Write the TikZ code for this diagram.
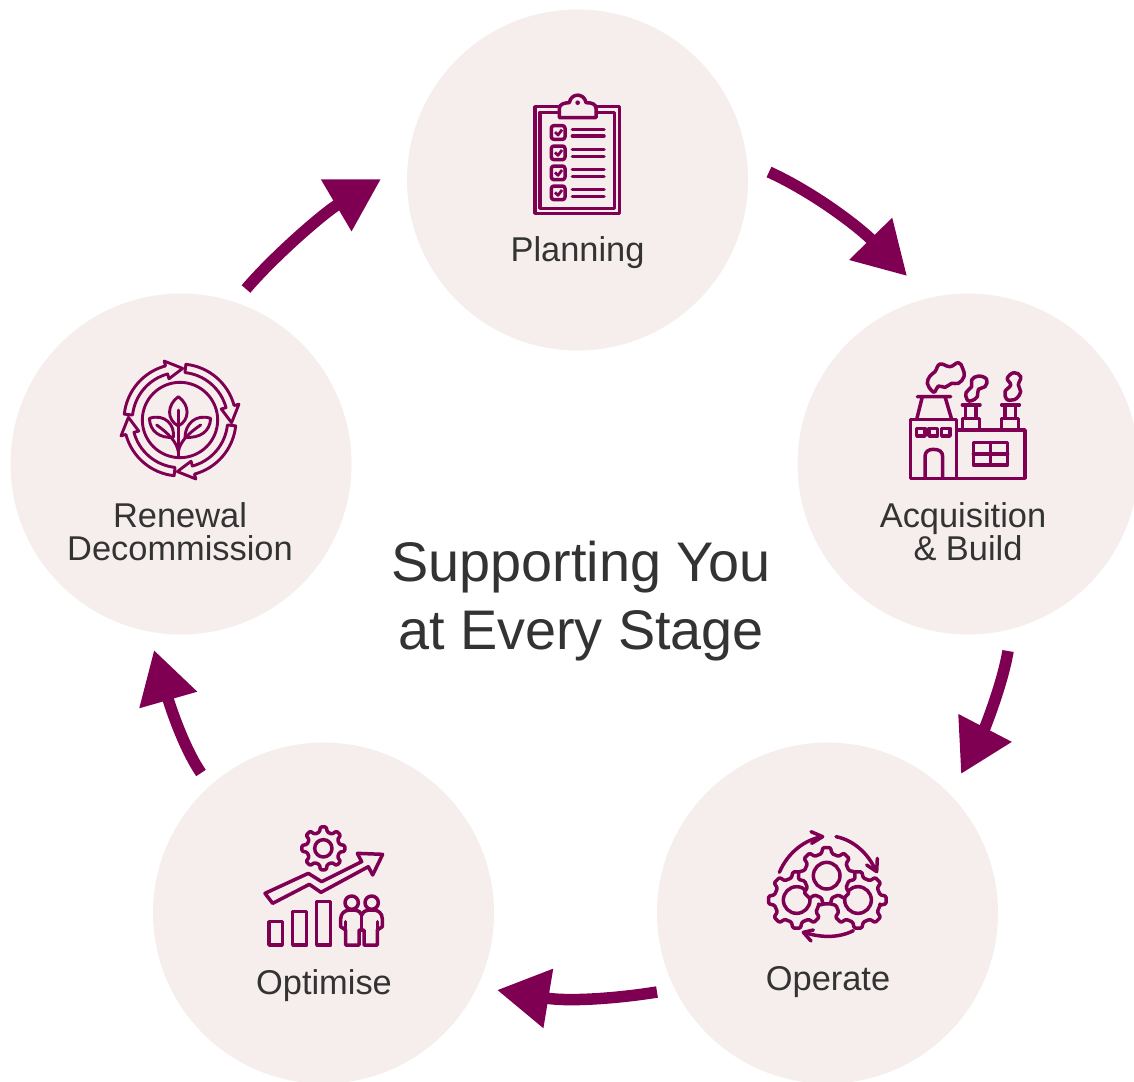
\documentclass[tikz,border=0pt]{standalone}
\usepackage{fontspec}
\setmainfont{Liberation Sans}
\usetikzlibrary{arrows.meta}
\definecolor{plum}{HTML}{7F0053}
\definecolor{disc}{HTML}{F5EEEC}
\definecolor{ink}{HTML}{333333}
\tikzset{
  x=1pt,y=-1pt,
  stagedisc/.style={circle,fill=disc,draw=none,minimum size=341pt,inner sep=0pt,outer sep=0pt},
  stagelabel/.style={text=ink,font=\fontsize{34.4}{33}\selectfont,align=center,inner sep=0pt},
  titlelabel/.style={text=ink,font=\fontsize{55.8}{68}\selectfont,align=center,inner sep=0pt},
  cyclearrow/.style={draw=plum,line width=11.5pt,-{Triangle[length=52pt,width=57pt]}},
  icon/.style={draw=plum,line width=3.5pt,line join=round,line cap=round},
  thinicon/.style={icon,line width=2.9pt},
  zoomdown/.style={x=0.33333pt,y=-0.33333pt},
  zoomup/.style={x=0.33333pt,y=0.33333pt},
}
\newcommand{\gearshape}[5][]{%
  % teeth, root radius, tip radius, phase
  \path[icon,rounded corners=1.2pt,#1] ({#5-0.3*360/#2}:#3)
    \foreach \k [evaluate=\k as \a using #5+\k*360/#2] in {0,...,\numexpr#2-1\relax} {
      -- ({\a-0.3*360/#2}:#3) -- ({\a-0.17*360/#2}:#4)
      -- ({\a+0.17*360/#2}:#4) -- ({\a+0.3*360/#2}:#3)
    } -- cycle;}
\begin{document}
\begin{tikzpicture}
\clip (0,0) rectangle (1134,1081);
\useasboundingbox (0,0) rectangle (1134,1081);
\node[stagedisc] (plan) at (577.5,180) {};
\node[stagedisc] (acq) at (968,464) {};
\node[stagedisc] (oper) at (827.5,913) {};
\node[stagedisc] (opt) at (323.5,913) {};
\node[stagedisc] (ren) at (181,464) {};
% labels
\node[stagelabel] (lplan) at (577.5,253) {Planning};
\node[stagelabel] (lacq) at (963,532) {Acquisition\\\hspace*{10pt}\& Build};
\node[stagelabel] (loper) at (828,982) {Operate};
\node[stagelabel] (lopt) at (324,986) {Optimise};
\node[stagelabel] (lren) at (180,532) {Renewal\\Decommission};
\node[titlelabel] (title) at (581,601) {Supporting You\\at Every Stage};
% connectors
\coordinate (a1s) at (769,172); \coordinate (a1t) at (907,276);
\coordinate (a2s) at (1008,651); \coordinate (a2t) at (961,774);
\coordinate (a3s) at (657,992); \coordinate (a3t) at (497,990);
\coordinate (a4s) at (201,773); \coordinate (a4t) at (154,650);
\coordinate (a5s) at (246,289); \coordinate (a5t) at (381,179);
\draw[cyclearrow] (a1s) .. controls (815,193) and (860,228) .. (a1t);
\draw[cyclearrow] (a2s) .. controls (1003,682) and (985,728) .. (a2t);
\draw[cyclearrow] (a3s) .. controls (620,998) and (570,1002) .. (a3t);
\draw[cyclearrow] (a4s) .. controls (182,745) and (168,699) .. (a4t);
\draw[cyclearrow] (a5s) .. controls (275,255) and (325,212) .. (a5t);
% clipboard
\begin{scope}[shift={(510,80)},zoomdown]
  \draw[icon] (75,80) rectangle (328,400);
  \draw[icon] (90,97) rectangle (313,385);
  \draw[icon,fill=disc] (148,113) -- (148,85) .. controls (148,72) and (165,68) .. (178,68)
     .. controls (183,38) and (223,38) .. (228,68) .. controls (245,68) and (258,72) .. (258,85) -- (258,113) -- cycle;
  \fill[plum] (203,68) circle[radius=7];
  \foreach \yy in {137,198,258,318} {
    \draw[icon,rounded corners=2.5pt] (124,\yy) rectangle (165,\yy+41);
    \draw[plum,line width=2.8pt,line join=round] (135,\yy+19) -- (144,\yy+28) -- (156,\yy+12);
    \draw[icon] (187,\yy+11) -- (282,\yy+11);
    \draw[icon] (187,\yy+31) -- (282,\yy+31);
  }
\end{scope}
% factory
\begin{scope}[shift={(890,350)},zoomdown]
  \draw[icon] (62,208) rectangle (200,385);
  \draw[icon] (200,240) -- (405,240) -- (405,385) -- (200,385);
  \foreach \xx in {80,117,155} \draw[icon] (\xx,235) rectangle (\xx+25,258);
  \draw[icon] (105,385) -- (105,320) .. controls (105,305) and (115,298) .. (130,298)
     .. controls (148,298) and (158,305) .. (158,320) -- (158,385);
  \draw[icon] (80,208) -- (97,140) (165,140) -- (185,208) (82,140) -- (182,140);
  \draw[icon] (250,278) rectangle (353,345) (301,278) -- (301,345) (250,312) -- (353,312);
  \foreach \xx in {0,118} {
    \draw[icon] (\xx+217,165) -- (\xx+270,165);
    \draw[icon] (\xx+227,165) -- (\xx+227,205) (\xx+258,165) -- (\xx+258,205);
    \draw[icon] (\xx+217,240) -- (\xx+217,205) -- (\xx+268,205) -- (\xx+268,240);
  }
  \draw[icon] plot[smooth cycle,tension=0.7] coordinates {(125,122) (112,100) (120,78) (135,65) (150,42) (180,50) (205,38) (218,55) (222,80) (205,100) (185,100) (165,112) (145,108) (135,125)};
  \draw[icon] plot[smooth cycle,tension=0.7] coordinates {(232,150) (228,128) (245,110) (245,90) (265,78) (290,88) (285,110) (265,118) (262,140) (245,152)};
  \draw[icon] plot[smooth cycle,tension=0.7] coordinates {(350,148) (345,125) (362,105) (352,85) (372,68) (392,80) (385,105) (392,125) (380,145) (365,150)};
\end{scope}
% gears
\begin{scope}[shift={(796.67,900)},zoomup]
  \gearshape[fill=disc]{8}{68}{85}{0}
  \draw[icon] (0,0) circle[radius=40];
\end{scope}
\begin{scope}[shift={(858,900)},zoomup]
  \gearshape[fill=disc]{8}{68}{85}{0}
  \draw[icon] (0,0) circle[radius=40];
\end{scope}
\begin{scope}[shift={(826.67,875.67)},zoomup]
  \gearshape[fill=disc]{8}{68}{85}{90}
  \draw[icon] (0,0) circle[radius=40];
\end{scope}
\begin{scope}[shift={(750,815)},zoomdown]
  \draw[icon] (88,172) .. controls (115,110) and (165,75) .. (215,65);
  \draw[icon] (183,50) -- (218,65) -- (185,85);
  \draw[icon] (258,65) .. controls (310,75) and (355,115) .. (378,168);
  \draw[icon] (350,150) -- (380,170) -- (382,130);
  \draw[icon] (310,347) .. controls (265,370) and (210,368) .. (162,352);
  \draw[icon] (190,345) -- (160,352) -- (183,378);
\end{scope}
% optimise
\begin{scope}[shift={(323.33,848.33)},zoomup]
  \gearshape{8}{50}{65}{90}
  \draw[icon] (0,0) circle[radius=26];
\end{scope}
\begin{scope}[shift={(250,815)},zoomdown]
  \draw[icon] (45,235) -- (175,175) -- (215,200) -- (335,140) -- (322,115) -- (398,118) -- (368,180) -- (355,155) -- (213,232) -- (178,208) -- (68,265) -- cycle;
  \draw[icon] (57,320) rectangle (97,390);
  \draw[icon] (128,290) rectangle (170,390);
  \draw[icon] (200,260) rectangle (242,390);
  \draw[icon] (305,263) circle[radius=20] (365,263) circle[radius=20];
  \draw[icon] (287,390) -- (287,345) -- (272,335) -- (272,312) .. controls (272,295) and (285,285) .. (300,285)
     -- (315,285) .. controls (325,285) and (332,292) .. (335,300) .. controls (338,292) and (345,285) .. (355,285)
     -- (370,285) .. controls (385,285) and (397,295) .. (397,312) -- (397,335) -- (382,345) -- (382,390)
     -- (342,390) -- (342,345) -- (327,345) -- (327,390) -- cycle;
  \draw[icon] (287,320) -- (287,345) (382,320) -- (382,345) (335,300) -- (335,345);
\end{scope}
% renewal
\begin{scope}[shift={(180,420)},zoomup]
  \foreach \r in {0,90,180,270} {
    \begin{scope}[rotate=-\r]
      \draw[thinicon] (84:168) arc[start angle=84,end angle=15,radius=168] -- (15:183) -- (-3:155) -- (15:128) -- (15:143) arc[start angle=15,end angle=84,radius=143] -- cycle;
    \end{scope}
  }
\end{scope}
\begin{scope}[shift={(110,350)},zoomdown]
  \draw[thinicon] (210,210) circle[radius=113];
  \draw[thinicon] (205,140) .. controls (170,165) and (170,210) .. (205,228) .. controls (240,210) and (240,165) .. (205,140);
  \draw[thinicon] (118,205) .. controls (165,190) and (195,225) .. (190,262) .. controls (150,265) and (120,245) .. (118,205);
  \draw[thinicon] (302,205) .. controls (255,190) and (225,225) .. (225,262) .. controls (270,265) and (300,245) .. (302,205);
  \draw[thinicon] (205,180) -- (205,322);
  \draw[thinicon] (205,305) .. controls (200,275) and (175,250) .. (140,225);
  \draw[thinicon] (205,305) .. controls (210,275) and (235,250) .. (272,225);
\end{scope}
\end{tikzpicture}
\end{document}
